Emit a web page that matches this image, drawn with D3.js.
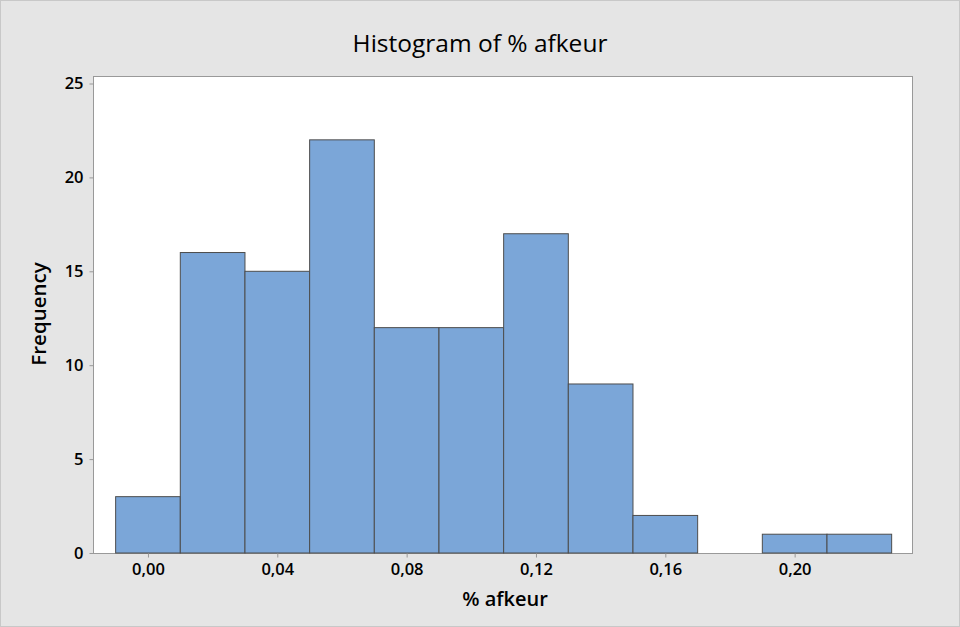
<!DOCTYPE html>
<html><head><meta charset="utf-8">
<script src="https://cdn.jsdelivr.net/npm/d3@7"></script>
<style>body{margin:0;background:#e5e5e5;}svg{display:block;}</style>
</head><body>
<script>
const binStarts = [-0.01,0.01,0.03,0.05,0.07,0.09,0.11,0.13,0.15,0.17,0.19,0.21];
const binWidth = 0.02;
const counts = [3,16,15,22,12,12,17,9,2,0,1,1];
const xTicks = [0.00,0.04,0.08,0.12,0.16,0.20];
const yTicks = [0,5,10,15,20,25];

const W=960,H=627;
const L=93,R=913,T=76,B=553;
const font="'Open Sans','Noto Sans',sans-serif";
const svg=d3.select("body").append("svg").attr("width",W).attr("height",H);
svg.append("rect").attr("x",0.5).attr("y",0.5).attr("width",W-1).attr("height",H-1)
  .attr("fill","#e5e5e5").attr("stroke","#c8c8c8");
const x=d3.scaleLinear().domain([-0.017,0.2366]).range([L,R]);
const y=d3.scaleLinear().domain([0,25]).range([B,83.5]);
svg.append("rect").attr("x",L+0.5).attr("y",T+0.5).attr("width",R-L-1).attr("height",B-T)
  .attr("fill","#fff").attr("stroke","#999");
svg.append("g").selectAll("rect").data(counts.map((c,i)=>({x0:binStarts[i],c}))).join("rect")
  .filter(d=>d.c>0)
  .attr("x",d=>x(d.x0)).attr("width",d=>x(d.x0+binWidth)-x(d.x0))
  .attr("y",d=>y(d.c)).attr("height",d=>y(0)-y(d.c))
  .attr("fill","#7ba6d8").attr("stroke","#4d4d4d").attr("stroke-width",1);
const fmt=d=>d3.format(".2f")(d).replace(".",",");
const xa=svg.append("g").attr("transform",`translate(0,${B+0.5})`)
  .call(d3.axisBottom(x).tickValues(xTicks).tickFormat(fmt).tickSize(4).tickPadding(6));
const ya=svg.append("g").attr("transform",`translate(${L+0.5},0)`)
  .call(d3.axisLeft(y).tickValues(yTicks).tickSize(4).tickPadding(6));
[xa,ya].forEach(a=>{a.select(".domain").remove();a.selectAll("line").attr("stroke","#999");
  a.selectAll("text").attr("font-family",font).attr("font-size",16.5).attr("font-weight",600).attr("fill","#000");});
svg.append("text").attr("x",480).attr("y",52).attr("text-anchor","middle").attr("font-family",font)
  .attr("font-size",24.5).attr("font-weight",500).text("Histogram of % afkeur");
svg.append("text").attr("x",505).attr("y",606).attr("text-anchor","middle").attr("font-family",font)
  .attr("font-size",20).attr("font-weight",600).text("% afkeur");
svg.append("text").attr("transform","translate(46,314) rotate(-90)").attr("text-anchor","middle").attr("font-family",font)
  .attr("font-size",20.5).attr("font-weight",600).text("Frequency");
</script>
</body></html>
